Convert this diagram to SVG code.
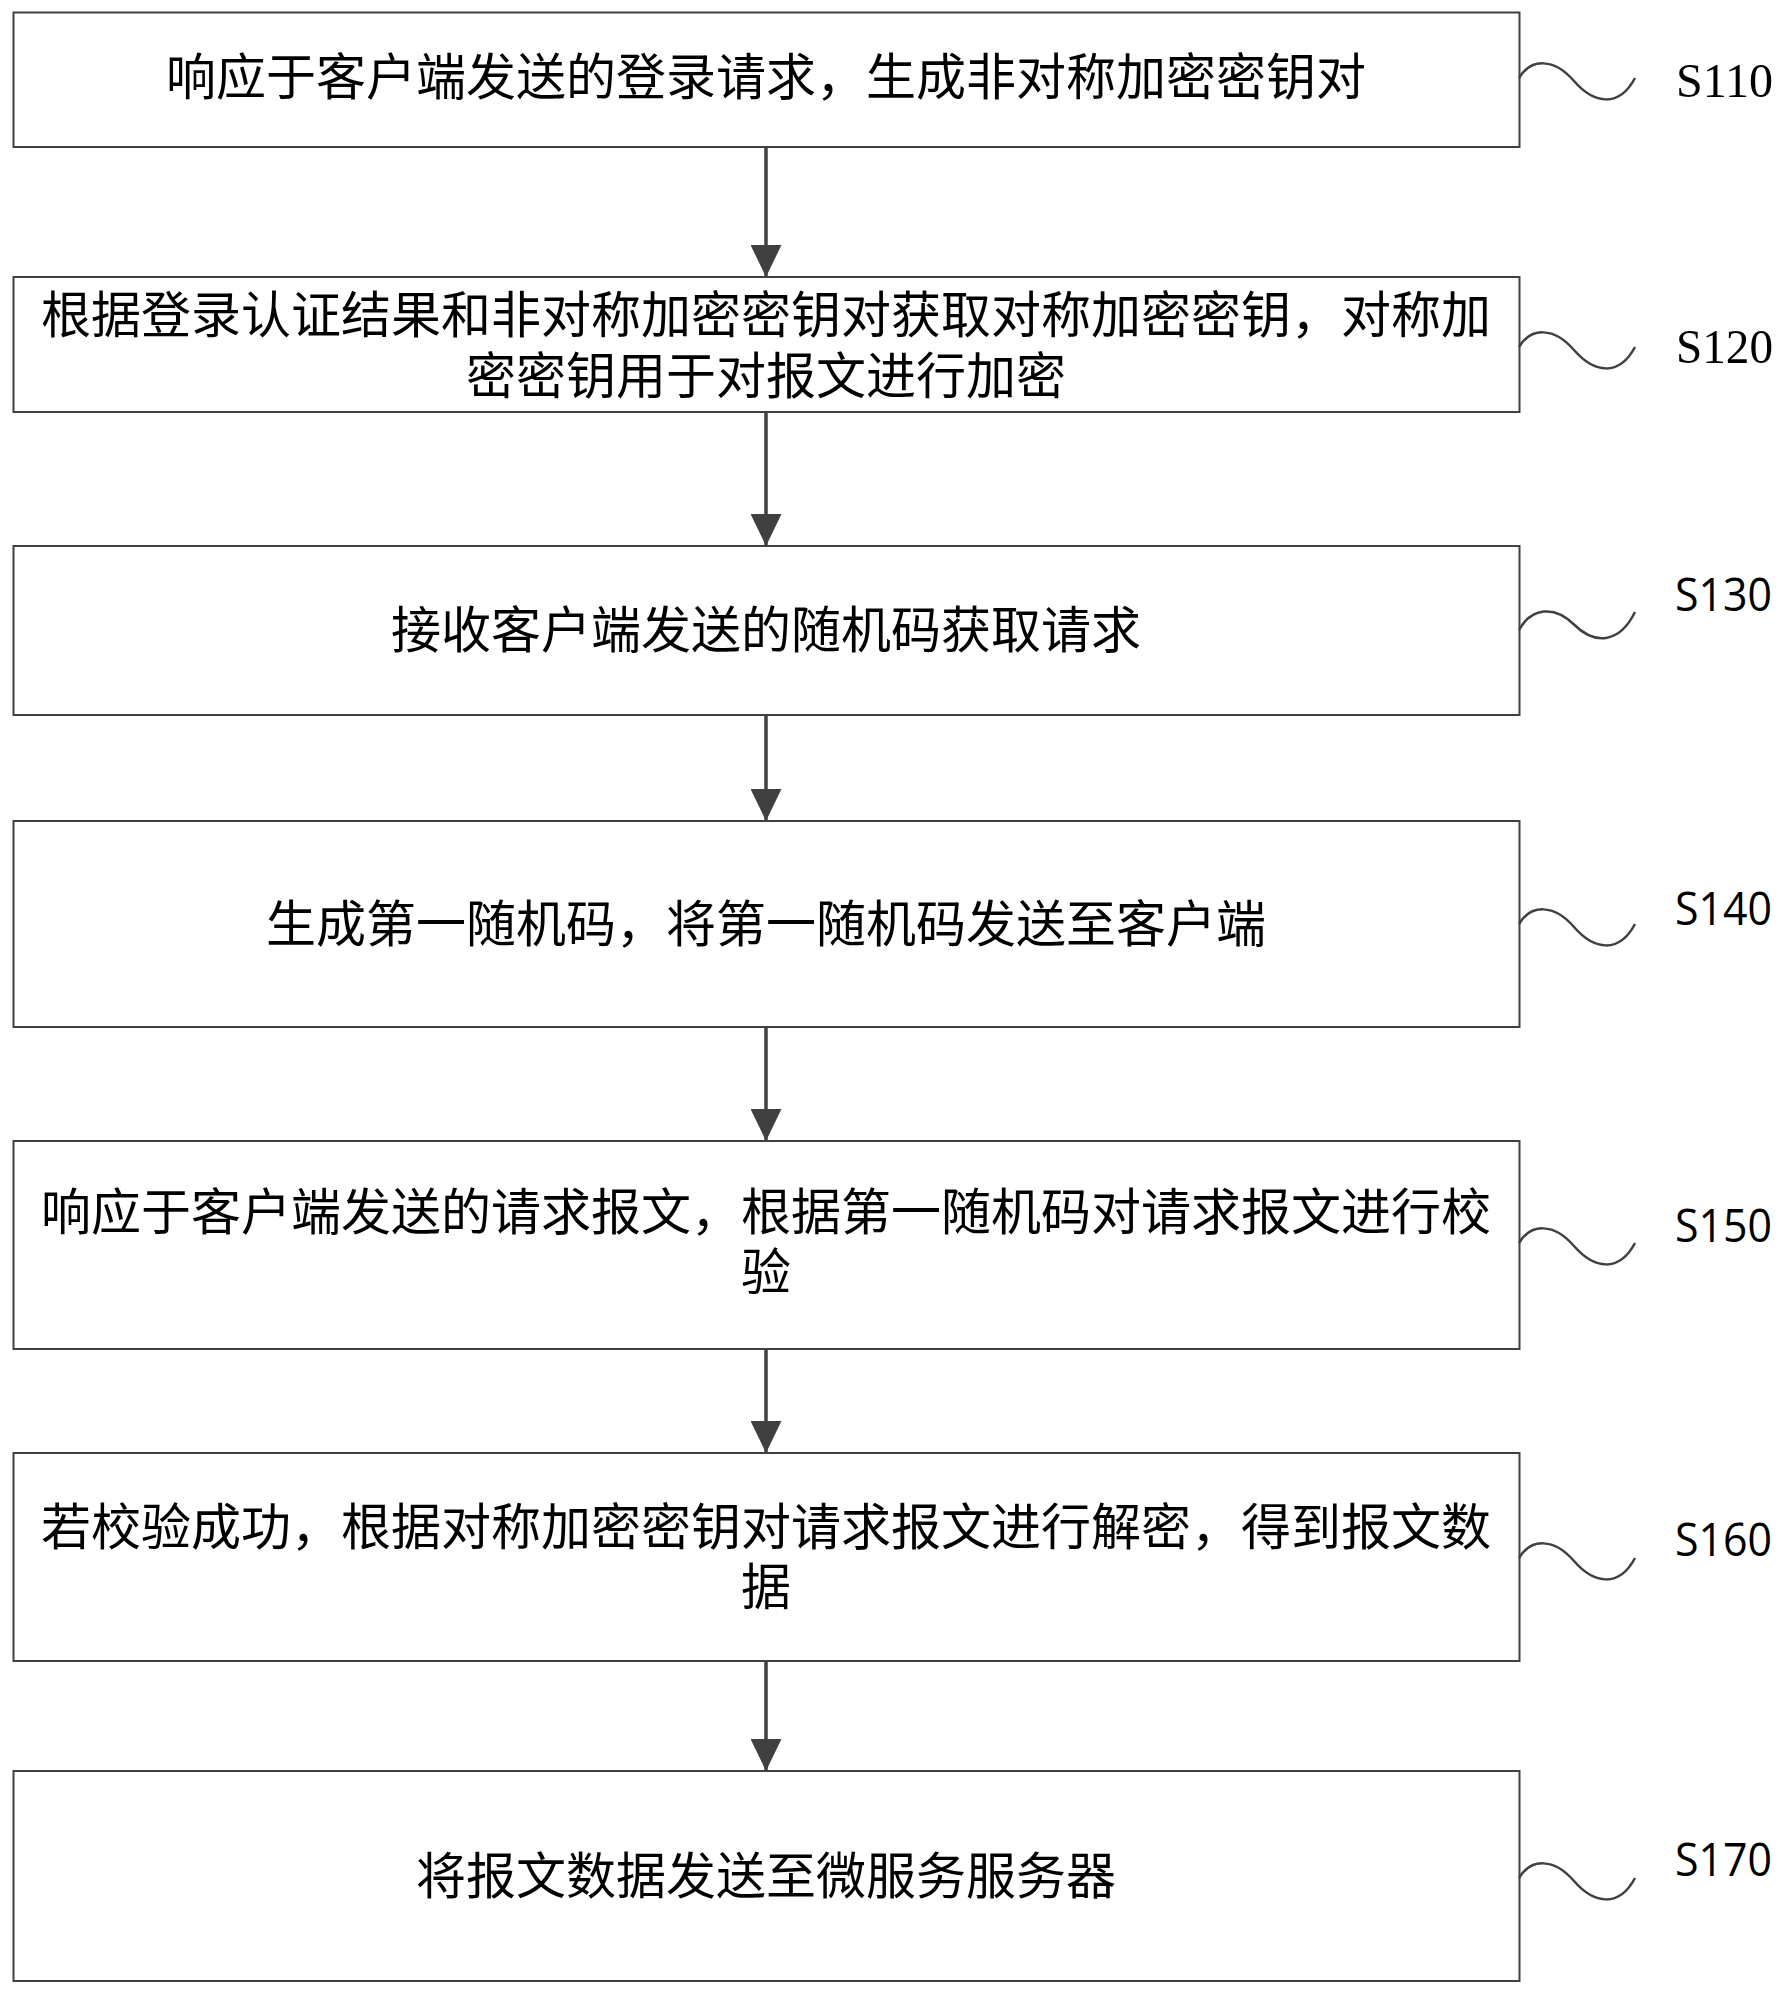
<svg xmlns="http://www.w3.org/2000/svg" width="1789" height="1995" viewBox="0 0 1789 1995">
<style>
.box{fill:#fff;stroke:#404040;stroke-width:2}
.t{font-family:"Noto Sans CJK SC","Noto Sans",sans-serif;font-size:50px;fill:#000;text-anchor:middle}
.lbs{font-family:"Liberation Serif",serif;font-size:49px;fill:#000}
.lb{font-family:"Open Sans","Liberation Sans",sans-serif;font-size:46px;fill:#000}
.wave{fill:none;stroke:#404040;stroke-width:2.5}
.arr{stroke:#404040;stroke-width:3.5;fill:none;marker-end:url(#ah)}
</style>
<defs>
<marker id="ah" markerUnits="userSpaceOnUse" markerWidth="32" markerHeight="31" refX="31" refY="15" orient="auto" viewBox="0 0 31 30">
<path d="M0,0 L31,15 L0,30 z" fill="#404040"/>
</marker>
<path id="wv" d="M0,0 C12,-20 35,-20 55,3 C75,26 100,30 116,0"/>
</defs>
<rect width="1789" height="1995" fill="#fff"/>
<g id="connectors">
<line class="arr" x1="766" y1="147" x2="766" y2="277"/>
<line class="arr" x1="766" y1="412" x2="766" y2="546"/>
<line class="arr" x1="766" y1="715" x2="766" y2="821"/>
<line class="arr" x1="766" y1="1027" x2="766" y2="1141"/>
<line class="arr" x1="766" y1="1349" x2="766" y2="1453"/>
<line class="arr" x1="766" y1="1661" x2="766" y2="1771"/>
</g>
<g id="S110">
<rect class="box" x="13.5" y="12.5" width="1506" height="134.5"/>
<text class="t" x="766" y="95">响应于客户端发送的登录请求，生成非对称加密密钥对</text>
<use href="#wv" class="wave" x="1519" y="78"/>
<text class="lbs" x="1676" y="97" textLength="97" lengthAdjust="spacingAndGlyphs">S110</text>
</g>
<g id="S120">
<rect class="box" x="13.5" y="277" width="1506" height="135"/>
<text class="t"><tspan x="766" y="333">根据登录认证结果和非对称加密密钥对获取对称加密密钥，对称加</tspan><tspan x="766" y="394">密密钥用于对报文进行加密</tspan></text>
<use href="#wv" class="wave" x="1519" y="347"/>
<text class="lbs" x="1676" y="363" textLength="97" lengthAdjust="spacingAndGlyphs">S120</text>
</g>
<g id="S130">
<rect class="box" x="13.5" y="546" width="1506" height="169"/>
<text class="t" x="766" y="648">接收客户端发送的随机码获取请求</text>
<path class="wave" d="M1519,630 C1531,608.1 1554,604.6 1574,624.5 C1594,644.4 1619,644.5 1635,612"/>
<text class="lb" x="1675" y="611" textLength="97" lengthAdjust="spacingAndGlyphs">S130</text>
</g>
<g id="S140">
<rect class="box" x="13.5" y="821" width="1506" height="206"/>
<text class="t" x="766" y="942">生成第一随机码，将第一随机码发送至客户端</text>
<use href="#wv" class="wave" x="1519" y="924"/>
<text class="lb" x="1675" y="925" textLength="97" lengthAdjust="spacingAndGlyphs">S140</text>
</g>
<g id="S150">
<rect class="box" x="13.5" y="1141" width="1506" height="208"/>
<text class="t"><tspan x="766" y="1230">响应于客户端发送的请求报文，根据第一随机码对请求报文进行校</tspan><tspan x="766" y="1290">验</tspan></text>
<use href="#wv" class="wave" x="1519" y="1243"/>
<text class="lb" x="1675" y="1242" textLength="97" lengthAdjust="spacingAndGlyphs">S150</text>
</g>
<g id="S160">
<rect class="box" x="13.5" y="1453" width="1506" height="208"/>
<text class="t"><tspan x="766" y="1545">若校验成功，根据对称加密密钥对请求报文进行解密，得到报文数</tspan><tspan x="766" y="1605">据</tspan></text>
<use href="#wv" class="wave" x="1519" y="1558"/>
<text class="lb" x="1675" y="1556" textLength="97" lengthAdjust="spacingAndGlyphs">S160</text>
</g>
<g id="S170">
<rect class="box" x="13.5" y="1771" width="1506" height="210"/>
<text class="t" x="766" y="1894">将报文数据发送至微服务服务器</text>
<use href="#wv" class="wave" x="1519" y="1878"/>
<text class="lb" x="1675" y="1876" textLength="97" lengthAdjust="spacingAndGlyphs">S170</text>
</g>
</svg>
